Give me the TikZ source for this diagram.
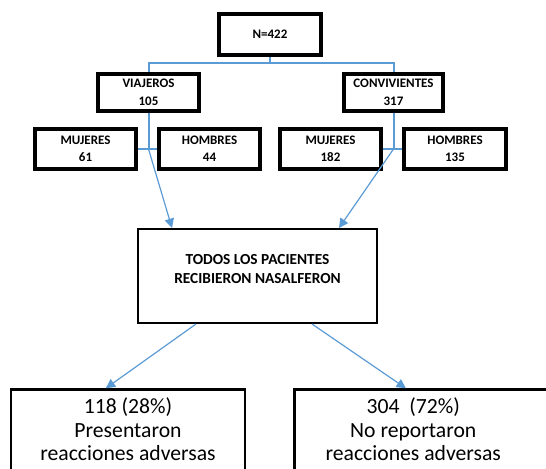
\documentclass[tikz,border=0pt]{standalone}
\usepackage{fontspec}
\setmainfont{Carlito}
\usepackage{xcolor}
\usepackage{tikz}
\usetikzlibrary{arrows.meta, positioning}

\definecolor{lineblue}{RGB}{91,155,213}

\begin{document}
\begin{tikzpicture}[
            x=0.75pt, y=-0.75pt,
            group/.style={rectangle, draw, line width=3pt, inner sep=0pt, align=center,
                minimum width=76pt, font=\fontsize{9.75}{13.5}\selectfont\bfseries},
            sub/.style={group, minimum height=30pt, font=\fontsize{9.75}{13}\selectfont\bfseries},
            result/.style={rectangle, draw, line width=1.8pt, minimum height=90pt},
            txt/.style={inner sep=0pt, align=center},
            tree/.style={draw=lineblue, line width=1.5pt},
            arrow/.style={draw=lineblue, line width=0.9pt, -{Triangle[length=7pt, width=7pt]}}
        ]
        \useasboundingbox (0,0) rectangle (546,468);
        \clip (0,0) rectangle (546,468);

        % Total
        \node[group, minimum height=30.75pt] (total) at (270,34.5) {N=422};

        % Groups
        \node[group, minimum height=27.75pt] (viaj) at (148.5,92.5) {VIAJEROS\\105};
        \node[group, minimum height=27.75pt, minimum width=74.25pt] (conv) at (393.5,92.5) {CONVIVIENTES\\317};

        % By sex
        \node[sub] (mujv) at (85.5,149) {MUJERES\\61};
        \node[sub] (homv) at (209.5,149) {HOMBRES\\44};
        \node[sub] (mujc) at (330.5,149) {MUJERES\\182};
        \node[sub, minimum width=76.5pt] (homc) at (455,149) {HOMBRES\\135};

        % Treatment
        \node[rectangle, draw, line width=1.5pt, minimum width=179.25pt, minimum height=70.5pt] (todos) at (257.5,276) {};
        \node[txt, font=\fontsize{11.5}{14.25}\selectfont\bfseries, below=19.5pt of todos.north] (todostxt)
            {TODOS LOS PACIENTES\\RECIBIERON NASALFERON};

        % Outcome
        \node[result, minimum width=175.5pt] (pres) at (128,449.5) {};
        \node[result, minimum width=199pt] (noreac) at (427.25,449.5) {};
        \node[txt, font=\fontsize{16.25}{17.6}\selectfont, below=7pt of pres.north] (prestxt)
            {118 (28\%)\\Presentaron\\reacciones adversas};
        \node[txt, font=\fontsize{16.25}{17.6}\selectfont, below=7pt of noreac.north, xshift=-10.5pt] (noreactxt)
            {304~~(72\%)\\No reportaron\\reacciones adversas};

        % Tree lines
        \coordinate (nbar) at (270,62.5);
        \coordinate (vj) at (148.5,149);
        \coordinate (cj) at (393.5,149);
        \draw[tree] (total.south) -- (nbar) -| (viaj.north);
        \draw[tree] (nbar) -| (conv.north);
        \draw[tree] (viaj.south) -- (vj);
        \draw[tree] (conv.south) -- (cj);
        \draw[tree] (mujv.east) -- (homv.west);
        \draw[tree] (mujc.east) -- (homc.west);

        % Arrows
        \draw[arrow] (vj) -- ([xshift=26.25pt]todos.north west);
        \draw[arrow] (cj) -- ([xshift=151.5pt]todos.north west);
        \draw[arrow] ([xshift=44.25pt]todos.south west) -- ([xshift=72pt]pres.north west);
        \draw[arrow] ([xshift=131.25pt]todos.south west) -- ([xshift=84.4pt]noreac.north west);

    \end{tikzpicture}
\end{document}
